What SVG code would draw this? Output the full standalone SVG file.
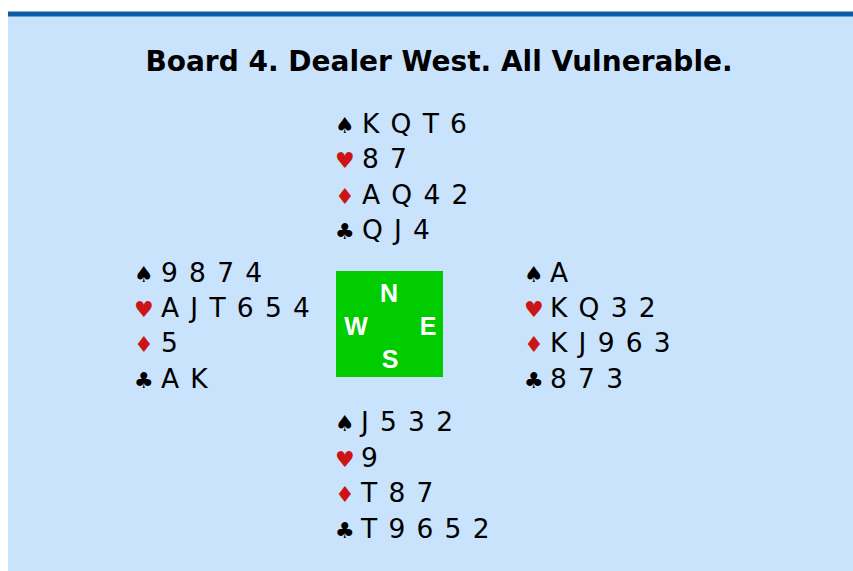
<svg xmlns="http://www.w3.org/2000/svg" width="853" height="571" viewBox="0 0 853 571">
<style>
.title{font-family:"DejaVu Sans","Verdana",sans-serif;font-weight:bold;font-size:28px;fill:#000}
.cards{font-family:"DejaVu Sans","Verdana",sans-serif;font-size:26.5px;letter-spacing:1.4px;fill:#000}
.sym{font-family:"DejaVu Sans",sans-serif;font-size:22px}
.blk{fill:#000}
.red{fill:#cc1414}
.cmp{font-family:"Liberation Sans",Arial,sans-serif;font-weight:bold;font-size:25px;fill:#fff;text-anchor:middle}
</style>
<rect x="0" y="0" width="853" height="571" fill="#ffffff"/>
<rect x="8" y="12" width="845" height="559" fill="#c9e3fd"/>
<rect x="8" y="11.5" width="845" height="5" fill="#0d5aa6"/>
<text class="title" x="439" y="71" text-anchor="middle">Board 4. Dealer West. All Vulnerable.</text>

<g id="north">
<text class="sym blk" x="335" y="133">♠</text><text class="cards" x="362" y="133">K Q T 6</text>
<text class="sym red" x="335" y="168">♥</text><text class="cards" x="362" y="168">8 7</text>
<text class="sym red" x="335" y="204">♦</text><text class="cards" x="362" y="204">A Q 4 2</text>
<text class="sym blk" x="335" y="239">♣</text><text class="cards" x="362" y="239">Q J 4</text>
</g>

<g id="west">
<text class="sym blk" x="134" y="282">♠</text><text class="cards" x="161" y="282">9 8 7 4</text>
<text class="sym red" x="134" y="317">♥</text><text class="cards" x="161" y="317">A J T 6 5 4</text>
<text class="sym red" x="134" y="352">♦</text><text class="cards" x="161" y="352">5</text>
<text class="sym blk" x="134" y="388">♣</text><text class="cards" x="161" y="388">A K</text>
</g>

<g id="east">
<text class="sym blk" x="524" y="282">♠</text><text class="cards" x="550" y="282">A</text>
<text class="sym red" x="524" y="317">♥</text><text class="cards" x="550" y="317">K Q 3 2</text>
<text class="sym red" x="524" y="352">♦</text><text class="cards" x="550" y="352">K J 9 6 3</text>
<text class="sym blk" x="524" y="388">♣</text><text class="cards" x="550" y="388">8 7 3</text>
</g>

<g id="south">
<text class="sym blk" x="335" y="431">♠</text><text class="cards" x="361" y="431">J 5 3 2</text>
<text class="sym red" x="335" y="467">♥</text><text class="cards" x="361" y="467">9</text>
<text class="sym red" x="335" y="502">♦</text><text class="cards" x="361" y="502">T 8 7</text>
<text class="sym blk" x="335" y="538">♣</text><text class="cards" x="361" y="538">T 9 6 5 2</text>
</g>

<g id="compass">
<rect x="336" y="271" width="107" height="106" fill="#00cc00"/>
<text class="cmp" x="389" y="302">N</text>
<text class="cmp" x="356" y="335">W</text>
<text class="cmp" x="428" y="335">E</text>
<text class="cmp" x="390" y="368">S</text>
</g>
<g id="connectors"></g>
</svg>
